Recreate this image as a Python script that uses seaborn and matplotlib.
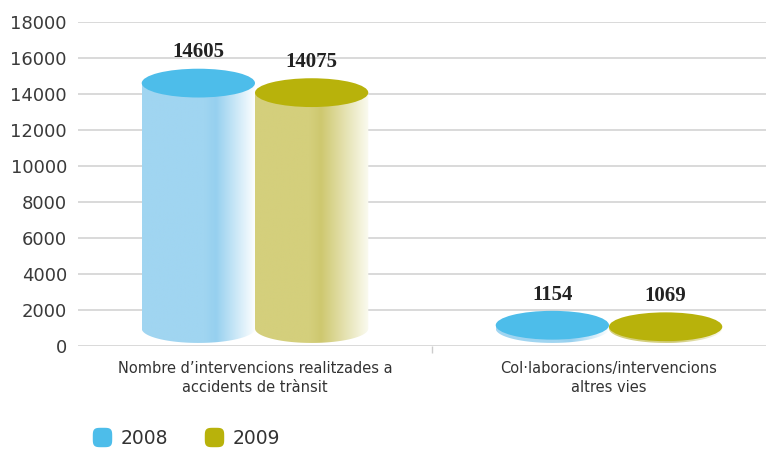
import numpy as np
import pandas as pd
import matplotlib
matplotlib.use("Agg")
import matplotlib.pyplot as plt
import seaborn as sns
from matplotlib.patches import Ellipse, PathPatch
from matplotlib.path import Path
from matplotlib.lines import Line2D
from matplotlib.colors import LinearSegmentedColormap

# ---- data ----
categories = ["Nombre d\u2019intervencions realitzades a\naccidents de tr\u00e0nsit",
              "Col\u00b7laboracions/intervencions\naltres vies"]
years = ["2008", "2009"]
values_2008 = [14605, 1154]
values_2009 = [14075, 1069]
y_ticks = [0, 2000, 4000, 6000, 8000, 10000, 12000, 14000, 16000, 18000]

df = pd.DataFrame({
    "categoria": categories * 2,
    "any": [years[0]] * 2 + [years[1]] * 2,
    "valor": values_2008 + values_2009,
})

top_colors = {"2008": "#4dbdea", "2009": "#b8b20b"}
body_stops = {
    "2008": [(0.0, "#a0d5f1"), (0.55, "#a0d5f1"), (0.65, "#96d0ef"), (1.0, "#ffffff")],
    "2009": [(0.0, "#d4cf7c"), (0.48, "#d4cf7c"), (0.58, "#cec86f"), (1.0, "#fbfbf1")],
}

sns.set_theme(style="white")
plt.rcParams["font.family"] = ["DejaVu Sans"]

W, H = 766, 450
fig = plt.figure(figsize=(W / 100, H / 100), dpi=100)
ax = fig.add_axes([78 / W, 1 - 346 / H, 708 / W, (346 - 22) / H])

sns.barplot(data=df, x="categoria", y="valor", hue="any", order=categories,
            hue_order=years, width=0.64, gap=0, ax=ax, legend=False,
            palette=top_colors, errorbar=None)

ax.set_xlim(-0.5, 1.5)
ax.set_ylim(0, 18000)
ax.set_yticks(y_ticks)
ax.set_yticklabels([str(t) for t in y_ticks], fontsize=13, color="#3a3a3a")
ax.yaxis.grid(True, color="#d9d9d9", lw=1.4)
ax.set_axisbelow(True)
for s in ax.spines.values():
    s.set_visible(False)
ax.set_xlabel("")
ax.set_ylabel("")
ax.tick_params(axis="y", length=0, pad=8)
ax.tick_params(axis="x", which="major", length=0, pad=11, labelsize=10.5,
               labelcolor="#333333")
for lbl in ax.get_xticklabels():
    lbl.set_linespacing(1.35)
ax.set_xticks([0.5], minor=True)
ax.tick_params(axis="x", which="minor", bottom=True, length=5, width=1,
               color="#cccccc")

eh = 1600  # ellipse height in data units (style)
t = np.linspace(np.pi, 2 * np.pi, 60)

for yr, cont in zip(years, ax.containers):
    cmap = LinearSegmentedColormap.from_list("g" + yr, body_stops[yr])
    grad = cmap(np.linspace(0, 1, 256))[None, :, :]
    for bar in cont:
        x0 = bar.get_x()
        w = bar.get_width()
        h = bar.get_height()
        bar.set_visible(False)
        cx = x0 + w / 2
        base = 170 + eh / 2
        top = max(h, base)
        verts = [(x0, top), (x0, base)]
        verts += list(zip(cx + w / 2 * np.cos(t), base + eh / 2 * np.sin(t)))
        verts += [(x0 + w, base), (x0 + w, top), (x0, top)]
        codes = [Path.MOVETO] + [Path.LINETO] * (len(verts) - 2) + [Path.CLOSEPOLY]
        clip = PathPatch(Path(verts, codes), facecolor="none", edgecolor="none",
                         transform=ax.transData)
        ax.add_patch(clip)
        im = ax.imshow(grad, extent=[x0, x0 + w, base - eh / 2, top],
                       aspect="auto", zorder=2, interpolation="bilinear")
        im.set_clip_path(clip)
        ax.add_patch(Ellipse((cx, h), w, eh, facecolor=top_colors[yr],
                             edgecolor="none", zorder=3))
        ax.annotate(f"{int(h)}", (cx, h + eh / 2), xytext=(0, 4.5),
                    textcoords="offset points", ha="center", va="bottom",
                    fontsize=15, fontweight="bold", color="#222222",
                    family="Liberation Serif", zorder=4)

ax.set_xlim(-0.5, 1.5)
ax.set_ylim(0, 18000)

# rounded-square legend marker
ang = np.linspace(0, 2 * np.pi, 80)
p = 4.0
mx = np.sign(np.cos(ang)) * np.abs(np.cos(ang)) ** (2 / p)
my = np.sign(np.sin(ang)) * np.abs(np.sin(ang)) ** (2 / p)
rsq = Path(np.column_stack([mx, my]))

handles = [Line2D([], [], marker=rsq, linestyle="none", markersize=14,
                  markerfacecolor=top_colors[y], markeredgecolor="none")
           for y in years]
fig.legend(handles, years, loc="center left", bbox_to_anchor=(93 / W, 1 - 438 / H),
           ncol=2, frameon=False, fontsize=13.5, handlelength=1.0,
           handletextpad=0.5, columnspacing=1.9, borderaxespad=0, borderpad=0,
           labelcolor="#333333")

fig.savefig("out.png", dpi=100, facecolor="white")
